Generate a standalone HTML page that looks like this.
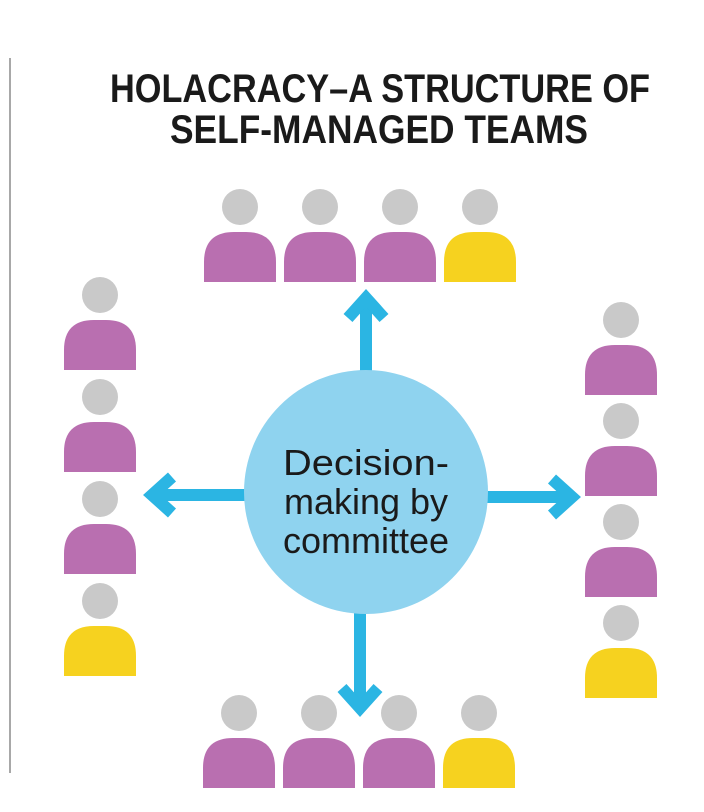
<!DOCTYPE html>
<html><head><meta charset="utf-8"><style>
html,body{margin:0;padding:0;background:#fff;}
svg{display:block;}
</style></head><body>
<svg width="704" height="812" viewBox="0 0 704 812" xmlns="http://www.w3.org/2000/svg">
<defs>
<g id="pm"><circle cx="0" cy="0" r="18" fill="#c9c9c9"/><path d="M-36,75 L-36,55 Q-36,25 -6,25 L6,25 Q36,25 36,55 L36,75 Z" fill="#b96fb0"/></g>
<g id="py"><circle cx="0" cy="0" r="18" fill="#c9c9c9"/><path d="M-36,75 L-36,55 Q-36,25 -6,25 L6,25 Q36,25 36,55 L36,75 Z" fill="#f6d21f"/></g>
</defs>
<rect x="9" y="58" width="2" height="715" fill="#a8a8a8"/>
<text x="380" y="102" text-anchor="middle" font-family="Liberation Sans, sans-serif" font-weight="bold" font-size="40" textLength="540" lengthAdjust="spacingAndGlyphs" fill="#1a1a1a">HOLACRACY–A STRUCTURE OF</text>
<text x="379" y="143" text-anchor="middle" font-family="Liberation Sans, sans-serif" font-weight="bold" font-size="40" textLength="418" lengthAdjust="spacingAndGlyphs" fill="#1a1a1a">SELF-MANAGED TEAMS</text>
<use href="#pm" x="240" y="207"/><use href="#pm" x="320" y="207"/><use href="#pm" x="400" y="207"/><use href="#py" x="480" y="207"/>
<use href="#pm" x="239" y="713"/><use href="#pm" x="319" y="713"/><use href="#pm" x="399" y="713"/><use href="#py" x="479" y="713"/>
<use href="#pm" x="100" y="295"/><use href="#pm" x="100" y="397"/><use href="#pm" x="100" y="499"/><use href="#py" x="100" y="601"/>
<use href="#pm" x="621" y="320"/><use href="#pm" x="621" y="421"/><use href="#pm" x="621" y="522"/><use href="#py" x="621" y="623"/>
<g stroke="#2bb5e3" stroke-width="12" fill="none" stroke-linecap="butt">
<line x1="366" y1="380" x2="366" y2="300"/>
<polyline points="348,318 366,298 384,318" stroke-linejoin="miter"/>
<line x1="250" y1="495" x2="155" y2="495"/>
<polyline points="172,477 152,495 172,513"/>
<line x1="480" y1="497" x2="570" y2="497"/>
<polyline points="552,479 572,497 552,515"/>
<line x1="360" y1="605" x2="360" y2="705"/>
<polyline points="342,688 360,708 378,688"/>
</g>
<circle cx="366" cy="492" r="122" fill="#8fd3ef"/>
<g font-family="Liberation Sans, sans-serif" font-size="36" fill="#1a1a1a" text-anchor="middle">
<text x="366" y="475" textLength="166" lengthAdjust="spacingAndGlyphs">Decision-</text>
<text x="366" y="514">making by</text>
<text x="366" y="553">committee</text>
</g>
</svg>
</body></html>
